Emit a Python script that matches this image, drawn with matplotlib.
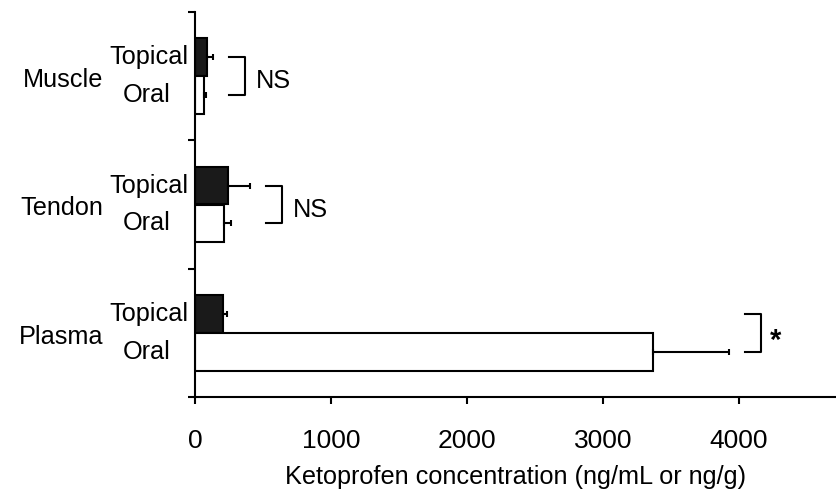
import matplotlib
matplotlib.use("Agg")
import matplotlib.pyplot as plt
from matplotlib.transforms import blended_transform_factory

plt.rcParams["font.family"] = ["Liberation Sans", "DejaVu Sans"]
plt.rcParams["font.size"] = 18.2

# values (ng/mL or ng/g)
tissues = ["Plasma", "Tendon", "Muscle"]
topical_mean = [206, 243, 88]
topical_err = [30, 161, 45]
oral_mean = [3368, 213, 66]
oral_err = [558, 52, 15]
sig_labels = ["*", "NS", "NS"]
xticks = [0, 1000, 2000, 3000, 4000]

fig = plt.figure(figsize=(8.36, 4.92), dpi=100)
ax = fig.add_axes([195 / 836, 95 / 492, 641 / 836, 385 / 492])

ypos = list(range(len(tissues)))
off = 0.148
h = 0.295
err_style = dict(ecolor="black", elinewidth=1.5, capsize=2, capthick=1.5)

ax.barh(
    [y + off for y in ypos],
    topical_mean,
    height=h,
    color="#1a1a1a",
    edgecolor="black",
    linewidth=1.5,
    xerr=[[0] * len(ypos), topical_err],
    error_kw=err_style,
)
ax.barh(
    [y - off for y in ypos],
    oral_mean,
    height=h,
    color="white",
    edgecolor="black",
    linewidth=1.5,
    xerr=[[0] * len(ypos), oral_err],
    error_kw=err_style,
)

# labels to the left of the axis
trans = blended_transform_factory(fig.transFigure, ax.transData)
for i, name in enumerate(tissues):
    ax.text(103 / 836, i - 0.03, name, transform=trans, ha="right", va="center")
    ax.text(188 / 836, i + off, "Topical", transform=trans, ha="right", va="center")
    ax.text(171 / 836, i - off, "Oral", transform=trans, ha="right", va="center")

# significance brackets
for i, lab in enumerate(sig_labels):
    x0 = max(topical_mean[i] + topical_err[i], oral_mean[i] + oral_err[i]) + 120
    x1 = x0 + 118
    ax.plot(
        [x0, x1, x1, x0],
        [i + off, i + off, i - off, i - off],
        color="black",
        linewidth=1.5,
        clip_on=False,
    )
    if lab == "*":
        ax.text(x1 + 65, i - 0.06, lab, ha="left", va="center",
                fontsize=21, fontweight="bold")
    else:
        ax.text(x1 + 80, i - 0.04, lab, ha="left", va="center")

ax.set_ylim(-0.5, 2.5)
ax.set_yticks([-0.5, 0.5, 1.5, 2.5])
ax.set_yticklabels([])
ax.set_xlim(0, 4713)
ax.set_xticks(xticks)

ax.spines["top"].set_visible(False)
ax.spines["right"].set_visible(False)
ax.spines["left"].set_linewidth(1.5)
ax.spines["bottom"].set_linewidth(1.5)
ax.tick_params(direction="out", length=5, width=1.5, pad=18)
ax.tick_params(axis="x", labelsize=19)

ax.set_xlabel("Ketoprofen concentration (ng/mL or ng/g)", labelpad=9)

fig.savefig("out.png", dpi=100)
